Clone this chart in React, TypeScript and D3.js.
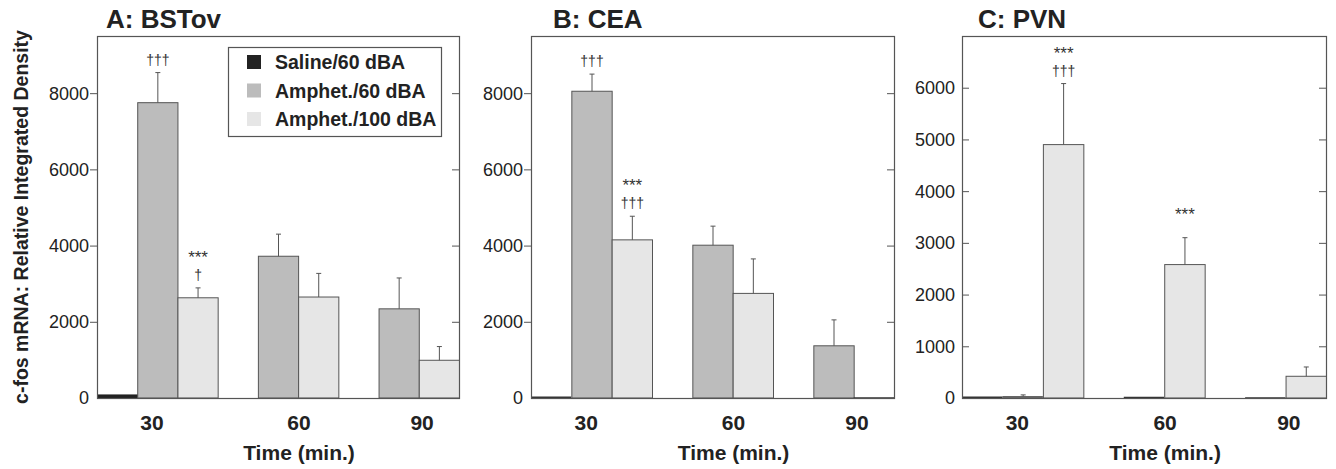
import React from "react";
import { scaleBand, scaleLinear } from "d3";

// categories
const times = ["30", "60", "90"];
const seriesNames = ["Saline/60 dBA", "Amphet./60 dBA", "Amphet./100 dBA"];
const seriesColors = ["#222222", "#bcbcbc", "#e6e6e6"];

// A: BSTov
const bstovSaline = [80, 0, 0];
const bstovAmph60 = [7750, 3720, 2340];
const bstovAmph100 = [2630, 2650, 990];
const bstovSalineErr = [80, 0, 0];
const bstovAmph60Err = [8540, 4300, 3150];
const bstovAmph100Err = [2890, 3270, 1350];

// B: CEA
const ceaSaline = [30, 0, 0];
const ceaAmph60 = [8050, 4010, 1370];
const ceaAmph100 = [4150, 2745, 10];
const ceaSalineErr = [30, 0, 0];
const ceaAmph60Err = [8500, 4510, 2050];
const ceaAmph100Err = [4770, 3650, 10];

// C: PVN
const pvnSaline = [25, 0, 0];
const pvnAmph60 = [30, 20, 10];
const pvnAmph100 = [4900, 2580, 420];
const pvnSalineErr = [25, 0, 0];
const pvnAmph60Err = [60, 20, 10];
const pvnAmph100Err = [6080, 3100, 600];

const ticksAB = [0, 2000, 4000, 6000, 8000];
const ticksC = [0, 1000, 2000, 3000, 4000, 5000, 6000];

// significance marks: [time index, series index, lines top->bottom]
const marksA: [number, number, string[]][] = [
  [0, 1, ["†††"]],
  [0, 2, ["***", "†"]],
];
const marksB: [number, number, string[]][] = [
  [0, 1, ["†††"]],
  [0, 2, ["***", "†††"]],
];
const marksC: [number, number, string[]][] = [
  [0, 2, ["***", "†††"]],
  [1, 2, ["***"]],
];

const tickLabelFrac = [0.152, 0.558, 0.898];

const FONT = "'Liberation Sans', Arial, Helvetica, sans-serif";

type PanelProps = {
  title: string;
  titleX: number;
  left: number;
  right: number;
  yMax: number;
  ticks: number[];
  tickOut: boolean;
  values: number[][];
  errors: number[][];
  marks: [number, number, string[]][];
  legend?: boolean;
};

const TOP = 36;
const BOTTOM = 398;

function Panel(p: PanelProps) {
  const y = scaleLinear().domain([0, p.yMax]).range([BOTTOM, TOP]);
  const xGroup = scaleBand().domain(times).range([p.left, p.right]).padding(0);
  const xSeries = scaleBand()
    .domain(seriesNames)
    .range([0, xGroup.bandwidth()])
    .padding(0);
  const bw = xSeries.bandwidth();
  const width = p.right - p.left;
  const stroke = "#555";

  return (
    <g>
      <text x={p.titleX} y={28} fontFamily={FONT} fontWeight="bold" fontSize={26} fill="#222">
        {p.title}
      </text>

      {/* bars */}
      {times.map((t, ti) =>
        seriesNames.map((s, si) => {
          const v = p.values[si][ti];
          if (v <= 0) return null;
          const x0 = (xGroup(t) as number) + (xSeries(s) as number);
          const h = BOTTOM - y(v);
          if (h < 2.5) {
            return (
              <line key={t + s} x1={x0} x2={x0 + bw} y1={y(v) + 0.5} y2={y(v) + 0.5}
                stroke="#333" strokeWidth={Math.max(1.5, h)} />
            );
          }
          return (
            <rect key={t + s} x={x0 + 0.5} y={y(v)} width={bw} height={h}
              fill={seriesColors[si]} stroke={si === 0 ? "#222" : stroke} strokeWidth={1} />
          );
        })
      )}

      {/* error bars */}
      {times.map((t, ti) =>
        seriesNames.map((s, si) => {
          const v = p.values[si][ti];
          const e = p.errors[si][ti];
          if (e - v < 10) return null;
          const cx = (xGroup(t) as number) + (xSeries(s) as number) + bw / 2 + 0.5;
          return (
            <g key={"e" + t + s} stroke={stroke} strokeWidth={1}>
              <line x1={cx} x2={cx} y1={y(v)} y2={y(e)} />
              <line x1={cx - 2.5} x2={cx + 2.5} y1={y(e)} y2={y(e)} />
            </g>
          );
        })
      )}

      {/* significance marks */}
      {p.marks.map(([ti, si, lines], i) => {
        const cx = (xGroup(times[ti]) as number) + (xSeries(seriesNames[si]) as number) + bw / 2 + 0.5;
        const top = y(p.errors[si][ti]);
        const onlyStars = lines.length === 1 && lines[0] === "***";
        const base = top - (onlyStars ? 18 : 8);
        return (
          <g key={"m" + i} fontFamily={FONT} fill="#333" textAnchor="middle">
            {lines.map((l, li) => (
              <text key={li} x={cx} y={base - (lines.length - 1 - li) * 17}
                fontSize={l.startsWith("*") ? 17 : 14}>
                {l}
              </text>
            ))}
          </g>
        );
      })}

      {/* frame */}
      <rect x={p.left + 0.5} y={TOP + 0.5} width={width} height={BOTTOM - TOP}
        fill="none" stroke="#555" strokeWidth={1.2} />

      {/* y ticks */}
      {p.ticks.map((t) => (
        <g key={"t" + t}>
          {t > 0 && (
            <>
              <line x1={p.tickOut ? p.left - 7 : p.left} x2={p.tickOut ? p.left : p.left + 7}
                y1={y(t) + 0.5} y2={y(t) + 0.5} stroke="#555" />
              <line x1={p.right - 7} x2={p.right} y1={y(t) + 0.5} y2={y(t) + 0.5} stroke="#555" />
            </>
          )}
          <text x={p.left - (p.tickOut ? 8 : 7)} y={y(t)} dy="0.36em" textAnchor="end"
            fontFamily={FONT} fontSize={18} fill="#222">
            {t}
          </text>
        </g>
      ))}

      {/* x labels */}
      {times.map((t, ti) => (
        <text key={"x" + t} x={p.left + width * tickLabelFrac[ti]} y={430} textAnchor="middle"
          fontFamily={FONT} fontWeight="bold" fontSize={21} fill="#222">
          {t}
        </text>
      ))}
      <text x={p.left + width * tickLabelFrac[1]} y={460} textAnchor="middle"
        fontFamily={FONT} fontWeight="bold" fontSize={21} fill="#222">
        Time (min.)
      </text>

      {p.legend && (
        <g>
          <rect x={228.5} y={47.5} width={213} height={89} fill="#fff" stroke="#555" strokeWidth={1.2} />
          {seriesNames.map((s, si) => (
            <g key={"l" + s}>
              <rect x={247} y={55 + si * 28.5} width={14} height={14} fill={seriesColors[si]} />
              <text x={275} y={62 + si * 28.5} dy="0.36em" fontFamily={FONT} fontWeight="bold"
                fontSize={19.5} fill="#222">
                {s}
              </text>
            </g>
          ))}
        </g>
      )}
    </g>
  );
}

export default function App() {
  return (
    <svg width={1336} height={469} style={{ position: "absolute", left: 0, top: 0, background: "#fff" }}>
      <text transform="translate(28,217) rotate(-90)" textAnchor="middle" fontFamily={FONT}
        fontWeight="bold" fontSize={19.5} fill="#222">
        c-fos mRNA: Relative Integrated Density
      </text>
      <Panel title="A: BSTov" titleX={106} left={97} right={459} yMax={9500} ticks={ticksAB} tickOut
        values={[bstovSaline, bstovAmph60, bstovAmph100]}
        errors={[bstovSalineErr, bstovAmph60Err, bstovAmph100Err]} marks={marksA} legend />
      <Panel title="B: CEA" titleX={553} left={531} right={894} yMax={9500} ticks={ticksAB} tickOut
        values={[ceaSaline, ceaAmph60, ceaAmph100]}
        errors={[ceaSalineErr, ceaAmph60Err, ceaAmph100Err]} marks={marksB} />
      <Panel title="C: PVN" titleX={978} left={962} right={1326} yMax={7000} ticks={ticksC} tickOut={false}
        values={[pvnSaline, pvnAmph60, pvnAmph100]}
        errors={[pvnSalineErr, pvnAmph60Err, pvnAmph100Err]} marks={marksC} />
    </svg>
  );
}
